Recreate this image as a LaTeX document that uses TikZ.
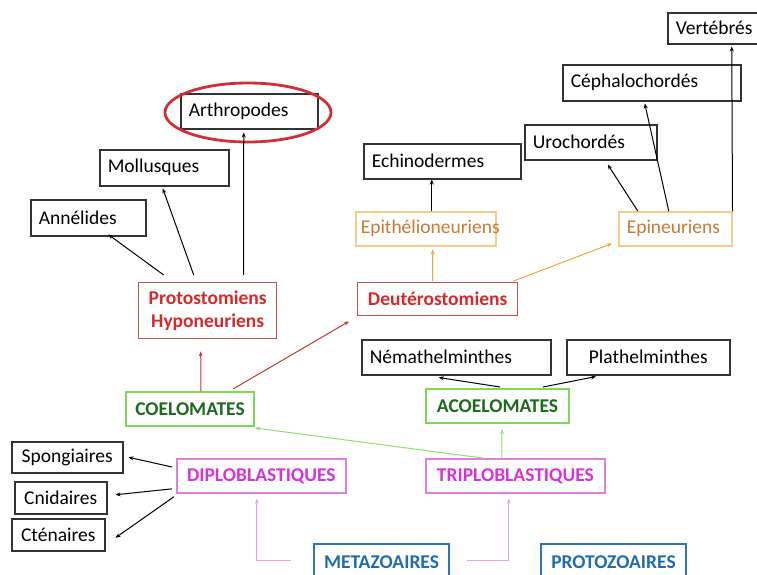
\documentclass[tikz,border=0pt]{standalone}
\usepackage{fontspec}
\setmainfont{Carlito}
\usetikzlibrary{arrows.meta,shapes.geometric}
\definecolor{boxgray}{HTML}{333333}
\definecolor{redb}{HTML}{C0504D}
\definecolor{redt}{HTML}{D42A2A}
\definecolor{ellred}{HTML}{D03035}
\definecolor{greenb}{HTML}{7ED957}
\definecolor{greent}{HTML}{1D6A1D}
\definecolor{magb}{HTML}{E07DE0}
\definecolor{magt}{HTML}{D633D6}
\definecolor{blueb}{HTML}{2E75B6}
\definecolor{bluet}{HTML}{1F6CB0}
\definecolor{orb}{HTML}{F8CB85}
\definecolor{ort}{HTML}{C77A33}
\definecolor{arrred}{HTML}{C0392B}
\definecolor{arror}{HTML}{E8A838}
\definecolor{arrgreen}{HTML}{8EE06B}
\definecolor{arrpink}{HTML}{EE9CE6}
\begin{document}
\begin{tikzpicture}[x=1pt,y=-1pt,
  every node/.style={font=\fontsize{19.5}{23}\selectfont, inner ysep=0pt, inner xsep=8pt, anchor=north west},
  bk/.style={draw=boxgray, line width=1.5pt, text=black},
  rd/.style={draw=redb, line width=1.4pt, text=redt, font=\fontsize{19.5}{23}\selectfont\bfseries, align=center},
  gr/.style={draw=greenb, line width=2pt, text=greent, font=\fontsize{19.5}{23}\selectfont\bfseries, align=center},
  mg/.style={draw=magb, line width=1.7pt, text=magt, font=\fontsize{19.5}{23}\selectfont\bfseries, align=center},
  bl/.style={draw=blueb, line width=2pt, text=bluet, font=\fontsize{19.5}{23}\selectfont\bfseries, align=center},
  org/.style={draw=orb, line width=1.5pt, text=ort, align=left},
  arr/.style={-{Stealth[length=5pt,width=4pt]}, line width=1pt},
  ak/.style={arr, color=black},
  ar/.style={arr, color=arrred},
  ao/.style={arr, color=arror},
  ag/.style={arr, color=arrgreen},
  ap/.style={arr, color=arrpink},
]
\useasboundingbox (0,0) rectangle (757,574);

% black boxes
\node[bk, minimum height=31pt, text width=74pt, align=left] (vert) at (667,12) {Vertébrés};
\node[bk, minimum height=36pt, text width=162pt, align=left] (ceph) at (562,64) {Céphalochordés};
\node[bk, minimum height=35pt, text width=116pt, align=left] (uro) at (524,124) {Urochordés};
\node[bk, minimum height=35pt, text width=141pt, align=left] (echi) at (363,143) {Echinodermes};
\node[bk, minimum height=35pt, text width=121pt, align=left] (arth) at (180,93) {Arthropodes};
\node[bk, minimum height=36pt, text width=113pt, align=left] (moll) at (99,149) {Mollusques};
\node[bk, minimum height=36pt, text width=99pt, align=left] (anne) at (30,199) {Annélides};
\node[bk, minimum height=35pt, text width=173pt, align=left] (nema) at (361,339) {Némathelminthes};
\node[bk, minimum height=35pt, minimum width=163pt] (plat) at (566,339) {Plathelminthes};
\node[bk, minimum height=31pt, minimum width=111pt] (spong) at (11,441) {Spongiaires};
\node[bk, minimum height=32pt, minimum width=92pt] (cnid) at (14,481) {Cnidaires};
\node[bk, minimum height=32pt, minimum width=93pt] (cten) at (11,518) {Cténaires};

% orange
\node[org, minimum height=34pt, inner xsep=5pt, text width=130pt] (epith) at (355,211) {Epithélioneuriens};
\node[org, minimum height=34pt, text width=97pt] (epin) at (618,211) {Epineuriens};

% red
\node[rd, minimum height=56pt, minimum width=138pt] (proto) at (138,282) {Protostomiens\\Hyponeuriens};
\node[rd, minimum height=33pt, minimum width=160pt] (deut) at (357,282) {Deutérostomiens};

% green
\node[gr, minimum height=34pt, minimum width=128pt] (coel) at (125,391) {COELOMATES};
\node[gr, minimum height=34pt, minimum width=143pt] (acoel) at (425,388) {ACOELOMATES};

% magenta
\node[mg, minimum height=34pt, minimum width=169pt] (diplo) at (176,458) {DIPLOBLASTIQUES};
\node[mg, minimum height=34pt, minimum width=179pt] (triplo) at (425,458) {TRIPLOBLASTIQUES};

% blue
\node[bl, minimum height=36pt, minimum width=135pt] (meta) at (313,543) {METAZOAIRES};
\node[bl, minimum height=36pt, minimum width=145pt] (protz) at (540,543) {PROTOZOAIRES};

% highlight ellipse
\node[draw=ellred, line width=2.8pt, ellipse, minimum width=166pt, minimum height=59pt, anchor=center] (ell) at (248,112.5) {};

% connectors
\draw[ak] ([xshift=-44pt,yshift=7pt]proto.north) -- ([xshift=20pt,yshift=2pt]anne.south);
\draw[ak] ([xshift=-14pt,yshift=7pt]proto.north) -- ([xshift=-1.5pt,yshift=-2pt]moll.south);
\draw[ak] ([xshift=36pt,yshift=7pt]proto.north) -- ([xshift=-5.5pt,yshift=-3pt]arth.south);

\draw[ar] ([xshift=11pt]coel.north) -- ([xshift=-7pt,yshift=-12pt]proto.south);
\draw[ar] ([xshift=43pt,yshift=2pt]coel.north) -- ([xshift=-8pt,yshift=-5pt]deut.south west);

\draw[ao] ([xshift=-5pt,yshift=1pt]deut.north) -- ([xshift=7pt,yshift=-3pt]epith.south);
\draw[ao] ([xshift=-5pt,yshift=1pt]deut.north east) -- ([xshift=-6pt,yshift=3pt]epin.south west);

\draw[ak] ([xshift=6pt]epith.north) -- ([xshift=-10.5pt]echi.south);
\draw[ak] ([xshift=-37.5pt]epin.north) -- ([xshift=17pt,yshift=-4pt]uro.south);
\draw[ak] ([xshift=-6.5pt]epin.north) -- ([xshift=-7pt,yshift=-2pt]ceph.south);
\draw[ak] (epin.north east) -- ([xshift=19pt,yshift=-2pt]vert.south);

\draw[ak] ([xshift=2.5pt,yshift=1pt]acoel.north) -- ([xshift=-17.5pt,yshift=-2pt]nema.south);
\draw[ak] ([xshift=45.5pt,yshift=1pt]acoel.north) -- ([xshift=30pt,yshift=-1pt]plat.south west);

\draw[ag] ([xshift=-13.5pt]triplo.north) -- ([xshift=4.5pt,yshift=-5pt]acoel.south);
\draw[ag] ([xshift=-32.5pt]triplo.north) -- ([yshift=-1pt]coel.south east);

\draw[ak] ([xshift=-4pt,yshift=-9pt]diplo.north west) -- ([xshift=5pt]spong.east);
\draw[ak] ([xshift=-4pt,yshift=-13pt]diplo.west) -- ([xshift=8pt,yshift=3pt]cnid.east);
\draw[ak] ([xshift=-2pt,yshift=-3pt]diplo.south west) -- ([xshift=10pt,yshift=-3pt]cten.east);

\draw[ap] ([xshift=-22pt,yshift=2pt]meta.west) -| ([xshift=-4.5pt,yshift=-5pt]diplo.south);
\draw[ap] ([xshift=17pt,yshift=2pt]meta.east) -| ([xshift=-6.5pt,yshift=-5pt]triplo.south);
\end{tikzpicture}
\end{document}
